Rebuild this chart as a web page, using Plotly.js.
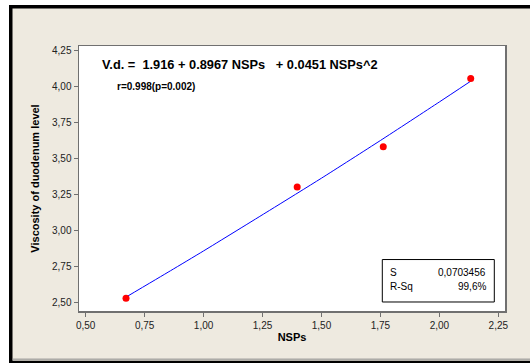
<!DOCTYPE html>
<html>
<head>
<meta charset="utf-8">
<script src="https://cdn.plot.ly/plotly-3.0.1.min.js"></script>
<style>html,body{margin:0;padding:0;background:#fff;}#chart{width:530px;height:363px;}</style>
</head>
<body>
<div id="chart"></div>
<script>
// Observed data points
const nsps = [0.671, 1.397, 1.762, 2.133];
const viscosity = [2.530, 3.300, 3.579, 4.052];
// Fitted curve
const fitNsps = [0.671, 0.86, 1.0, 1.28, 1.5, 1.75, 2.0, 2.133];
const fitVisc = [2.538, 2.721, 2.858, 3.139, 3.362, 3.623, 3.890, 4.034];
// Tick values
const xTicks = [0.50, 0.75, 1.00, 1.25, 1.50, 1.75, 2.00, 2.25];
const yTicks = [2.50, 2.75, 3.00, 3.25, 3.50, 3.75, 4.00, 4.25];
// Text
const eqText = 'V.d. =  1.916 + 0.8967 NSPs   + 0.0451 NSPs^2';
const rText = 'r=0.998(p=0.002)';
const statNames = ['S', 'R-Sq'];
const statValues = ['0,0703456', '99,6%'];

const W = 530, H = 363;
const L = 79, R = 505, T = 46, B = 310.7;
const px = x => (x - L) / (R - L);
const py = y => (B - y) / (B - T);

const font = 'Liberation Sans, Arial, sans-serif';

const traces = [
  {x: fitNsps, y: fitVisc, mode: 'lines', type: 'scatter',
   line: {color: '#0000FF', width: 1, shape: 'spline', smoothing: 0.6}, hoverinfo: 'skip'},
  {x: nsps, y: viscosity, mode: 'markers', type: 'scatter',
   marker: {color: '#FF0000', size: 7}}
];

const shapes = [
  {type: 'rect', xref: 'paper', yref: 'paper', x0: px(0), x1: px(W), y0: py(0), y1: py(5), fillcolor: '#fff', line: {width: 0}, layer: 'below'},
  {type: 'rect', xref: 'paper', yref: 'paper', x0: px(0), x1: px(9), y0: py(0), y1: py(H), fillcolor: '#fff', line: {width: 0}, layer: 'below'},
  {type: 'rect', xref: 'paper', yref: 'paper', x0: px(9), x1: px(W), y0: py(5), y1: py(8.5), fillcolor: '#000', line: {width: 0}, layer: 'below'},
  {type: 'rect', xref: 'paper', yref: 'paper', x0: px(9), x1: px(12.5), y0: py(5), y1: py(H), fillcolor: '#000', line: {width: 0}, layer: 'below'},
  {type: 'rect', xref: 'paper', yref: 'paper', x0: px(9), x1: px(W), y0: py(360.5), y1: py(H), fillcolor: '#000', line: {width: 0}, layer: 'below'},
  {type: 'line', xref: 'paper', yref: 'paper', x0: px(12.5), x1: px(W), y0: py(358.8), y1: py(358.8), line: {color: '#8a8a8a', width: 1}, layer: 'below'},
  {type: 'rect', xref: 'paper', yref: 'paper', x0: px(382.3), x1: px(494.3), y0: py(301.7), y1: py(259.3), fillcolor: '#fff', line: {color: '#000', width: 1}, layer: 'above'}
];

const annotations = [
  {xref: 'paper', yref: 'paper', x: px(100), y: py(64), xanchor: 'left', yanchor: 'middle', showarrow: false,
   text: '<b>' + eqText + '</b>', font: {family: font, size: 12.8, color: '#000'}},
  {xref: 'paper', yref: 'paper', x: px(115), y: py(86), xanchor: 'left', yanchor: 'middle', showarrow: false,
   text: '<b>' + rText + '</b>', font: {family: font, size: 10, color: '#000'}},
  {xref: 'paper', yref: 'paper', x: px(388), y: py(272), xanchor: 'left', yanchor: 'middle', showarrow: false,
   text: statNames[0], font: {family: font, size: 10, color: '#000'}},
  {xref: 'paper', yref: 'paper', x: px(388), y: py(286.5), xanchor: 'left', yanchor: 'middle', showarrow: false,
   text: statNames[1], font: {family: font, size: 10, color: '#000'}},
  {xref: 'paper', yref: 'paper', x: px(488), y: py(272), xanchor: 'right', yanchor: 'middle', showarrow: false,
   text: statValues[0], font: {family: font, size: 10, color: '#000'}},
  {xref: 'paper', yref: 'paper', x: px(488), y: py(286.5), xanchor: 'right', yanchor: 'middle', showarrow: false,
   text: statValues[1], font: {family: font, size: 10, color: '#000'}}
];

const layout = {
  width: W, height: H,
  margin: {l: L, r: W - R, t: T, b: H - B, pad: 0},
  paper_bgcolor: '#EEEAE0',
  plot_bgcolor: '#FFFFFF',
  showlegend: false,
  separators: ',.',
  font: {family: font, size: 10, color: '#222'},
  xaxis: {
    range: [0.4716, 2.2784], tickvals: xTicks, tickformat: '.2f',
    showgrid: false, zeroline: false,
    showline: true, linecolor: '#707070', linewidth: 1.5, mirror: true,
    ticks: 'outside', ticklen: 4, tickcolor: '#707070', tickwidth: 1,
    tickfont: {family: font, size: 10, color: '#222'},
    title: {text: '<b>NSPs</b>', font: {family: font, size: 11, color: '#000'}, standoff: 4}
  },
  yaxis: {
    range: [2.4418, 4.2777], tickvals: yTicks, tickformat: '.2f',
    showgrid: false, zeroline: false,
    showline: true, linecolor: '#707070', linewidth: 1.5, mirror: true,
    ticks: 'outside', ticklen: 4, tickcolor: '#707070', tickwidth: 1,
    tickfont: {family: font, size: 10, color: '#222'},
    title: {text: '<b>Viscosity of duodenum level</b>', font: {family: font, size: 11, color: '#000'}, standoff: 10}
  },
  shapes: shapes,
  annotations: annotations
};

Plotly.newPlot('chart', traces, layout, {staticPlot: true, displayModeBar: false});
</script>
</body>
</html>
